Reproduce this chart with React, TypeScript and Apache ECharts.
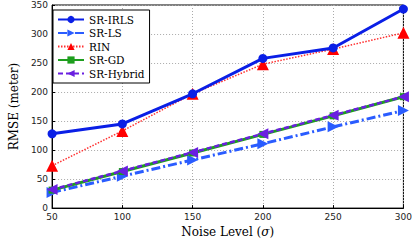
import React, { useEffect, useRef } from "react";
import * as echarts from "echarts";

const noiseLevels = [50, 100, 150, 200, 250, 300];
const srIrls = [128, 145, 197, 258, 276, 343];
const srLs = [27, 55, 83, 111, 140, 168];
const rin = [73, 133, 197, 248, 274, 302];
const srGd = [31, 63, 95, 127, 159, 192];
const srHybrid = [32, 64, 96, 128, 160, 192];
const yTicks = [0, 50, 100, 150, 200, 250, 300, 350];

const serif = "DejaVu Serif";
const sans = "DejaVu Sans";

export default function App() {
  const ref = useRef<HTMLDivElement>(null);
  useEffect(() => {
    if (!ref.current) return;
    const chart = echarts.init(ref.current, undefined, { renderer: "svg" });
    const pts = (arr: number[]) => arr.map((v, i) => [noiseLevels[i], v]);
    chart.setOption({
      animation: false,
      backgroundColor: "#ffffff",
      grid: { left: 37, right: 8, top: 5, bottom: 28, show: true, borderColor: "#000", borderWidth: 1 },
      legend: {
        orient: "vertical",
        left: 53,
        top: 10,
        padding: [4, 5, 4, 4],
        itemGap: 2.5,
        itemWidth: 26,
        itemHeight: 9,
        backgroundColor: "#fff",
        borderColor: "#000",
        borderWidth: 1,
        textStyle: { fontFamily: serif, fontSize: 10.5, color: "#000" },
        data: ["SR-IRLS", "SR-LS", "RIN", "SR-GD", "SR-Hybrid"],
      },
      xAxis: {
        type: "value",
        min: 50,
        max: 300,
        interval: 50,
        name: "Noise Level ({i|σ})",
        nameLocation: "middle",
        nameGap: 17,
        nameTextStyle: {
          fontFamily: serif,
          fontSize: 12,
          color: "#000",
          rich: { i: { fontFamily: serif, fontSize: 12, fontStyle: "italic", color: "#000" } },
        },
        axisLine: { lineStyle: { color: "#000", width: 1 } },
        axisTick: { inside: true, length: 3, lineStyle: { color: "#000" } },
        axisLabel: { fontFamily: sans, fontSize: 9, color: "#222", margin: 4 },
        splitLine: { show: true, lineStyle: { color: "#aaa", type: [1, 2], width: 1 } },
      },
      yAxis: {
        type: "value",
        min: 0,
        max: 350,
        interval: 50,
        name: "RMSE (meter)",
        nameLocation: "middle",
        nameGap: 24,
        nameTextStyle: { fontFamily: serif, fontSize: 12, color: "#000" },
        axisLine: { show: true, lineStyle: { color: "#000", width: 1 } },
        axisTick: { show: true, inside: true, length: 3, lineStyle: { color: "#000" } },
        axisLabel: { fontFamily: sans, fontSize: 9, color: "#222", margin: 4, formatter: (v: number) => (yTicks.includes(v) ? String(v) : "") },
        splitLine: { show: true, lineStyle: { color: "#aaa", type: [1, 2], width: 1 } },
      },
      series: [
        {
          name: "SR-IRLS",
          type: "line",
          data: pts(srIrls),
          symbol: "circle",
          symbolSize: 9,
          color: "#0a1fe6",
          lineStyle: { width: 3, color: "#0a1fe6" },
          itemStyle: { color: "#0a1fe6" },
          z: 5,
        },
        {
          name: "SR-LS",
          type: "line",
          data: pts(srLs),
          symbol: "triangle",
          symbolRotate: -90,
          symbolSize: 11,
          color: "#2a5cff",
          lineStyle: { width: 3, color: "#2a5cff", type: [9, 3, 2, 3] },
          itemStyle: { color: "#2a5cff" },
          z: 2,
        },
        {
          name: "RIN",
          type: "line",
          data: pts(rin),
          symbol: "triangle",
          symbolSize: 12,
          color: "#ff0000",
          lineStyle: { width: 1.5, color: "#ff3030", type: [1.5, 1.5] },
          itemStyle: { color: "#ff0000" },
          z: 4,
        },
        {
          name: "SR-GD",
          type: "line",
          data: pts(srGd),
          symbol: "rect",
          symbolSize: 7,
          color: "#1e9e1e",
          lineStyle: { width: 3, color: "#1e9e1e" },
          itemStyle: { color: "#1e9e1e" },
          z: 3,
        },
        {
          name: "SR-Hybrid",
          type: "line",
          data: pts(srHybrid),
          symbol: "triangle",
          symbolRotate: 90,
          symbolSize: 11,
          color: "#6a1fe0",
          lineStyle: { width: 2.5, color: "#6a1fe0", type: [5, 3] },
          itemStyle: { color: "#6a1fe0" },
          z: 3,
        },
      ],
    });
    return () => chart.dispose();
  }, []);
  return <div ref={ref} style={{ width: 415, height: 243, position: "absolute", left: 0, top: 0 }} />;
}
